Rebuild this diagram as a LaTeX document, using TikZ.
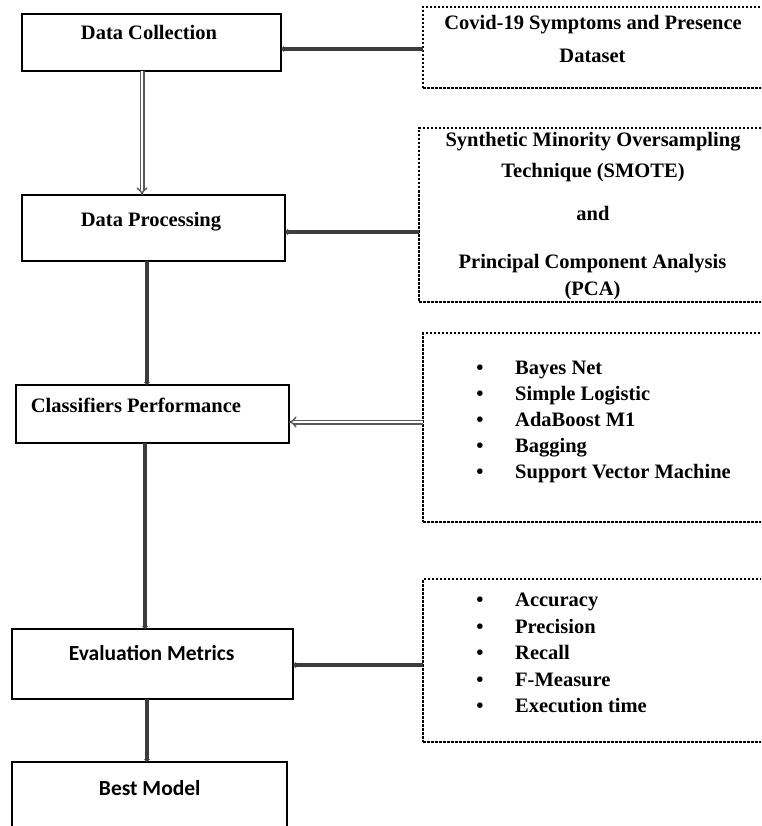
\documentclass[tikz,border=0pt]{standalone}
\usepackage{fontspec}
\setmainfont{Liberation Serif}
\newfontfamily\calib{Carlito}
\usetikzlibrary{arrows.meta}
\definecolor{arrowgray}{HTML}{3C3C3C}
\begin{document}
\begin{tikzpicture}[x=1pt,y=-1pt,
  box/.style={draw=black, line width=1.5pt, inner sep=0pt, outer sep=0pt},
  dbox/.style={draw=black, line width=1.1pt, dash pattern=on 2.5pt off 1.5pt, inner sep=0pt, outer sep=0pt},
  txt/.style={anchor=base, inner sep=0pt, font=\fontsize{20.5}{26}\selectfont\bfseries},
  stxt/.style={anchor=base, inner sep=0pt, font=\fontsize{21.5}{26}\selectfont\calib\bfseries},
  ltxt/.style={anchor=base west, inner sep=0pt, font=\fontsize{20.5}{26}\selectfont\bfseries},
  bul/.style={anchor=base, inner sep=0pt, font=\fontsize{20.5}{26}\selectfont\bfseries},
  arr/.style={draw=arrowgray, line width=3.6pt, -{Triangle[length=3pt,width=6pt]}},
  dbl/.style={draw=arrowgray!85, line width=1.4pt, double=white, double distance=2.2pt, -{Implies[length=4pt]}}
]
\useasboundingbox (0,0) rectangle (761,826);
\clip (0,0) rectangle (761,826);

% left boxes
\node[box, minimum width=259pt, minimum height=57pt] (dc) at (151.5,42.5) {};
\node[box, minimum width=263pt, minimum height=66pt] (dp) at (153.5,228) {};
\node[box, minimum width=273pt, minimum height=58pt] (cp) at (152.5,414) {};
\node[box, minimum width=281pt, minimum height=70pt] (em) at (152.5,664) {};
\node[box, minimum width=275pt, minimum height=78pt] (bm) at (149.5,801) {};

\node[txt] (dct) at (149,39.3) {Data Collection};
\node[txt] (dpt) at (151,226) {Data Processing};
\node[ltxt] (cpt) at (30.7,412.3) {Classifiers Performance};
\node[stxt] (emt) at (151.7,660.7) {Evaluation Metrics};
\node[stxt] (bmt) at (149.7,795) {Best Model};

% right boxes
\node[dbox, minimum width=342pt, minimum height=81pt] (r1) at (594,47.5) {};
\node[dbox, minimum width=346pt, minimum height=174pt] (r2) at (592,215) {};
\node[dbox, minimum width=342pt, minimum height=189pt] (r3) at (594,427.5) {};
\node[dbox, minimum width=342pt, minimum height=163pt] (r4) at (594,660.5) {};

\node[txt] (r1a) at (593,30) {Covid-19 Symptoms and Presence};
\node[txt] (r1b) at (592.5,62.7) {Dataset};

\node[txt] (r2a) at (593,146.7) {Synthetic Minority Oversampling};
\node[txt] (r2b) at (593,177.3) {Technique (SMOTE)};
\node[txt] (r2c) at (593,220) {and};
\node[txt] (r2d) at (592.5,268.3) {Principal Component Analysis};
\node[txt] (r2e) at (592.5,295) {(PCA)};

\foreach \t [count=\i] in {Bayes Net, Simple Logistic, AdaBoost M1, Bagging, Support Vector Machine}{
  \node[bul] (r3b\i) at (480,{374+26.1*(\i-1)}) {\textbullet};
  \node[ltxt] (r3t\i) at (515,{374+26.1*(\i-1)}) {\t};
}
\foreach \t [count=\i] in {Accuracy, Precision, Recall, F-Measure, Execution time}{
  \node[bul] (r4b\i) at (480,{606.7+26.5*(\i-1)}) {\textbullet};
  \node[ltxt] (r4t\i) at (515,{606.7+26.5*(\i-1)}) {\t};
}

% vertical connectors
\draw[dbl] ([xshift=-9.5pt]dc.south) -- ([xshift=-11.5pt]dp.north);
\draw[arr] ([xshift=-6.5pt]dp.south) -- ([xshift=-5.5pt]cp.north);
\draw[arr] ([xshift=-7.5pt]cp.south) -- ([xshift=-7.5pt]em.north);
\draw[arr] ([xshift=-5.5pt]em.south) -- ([xshift=-2.5pt]bm.north);

% horizontal connectors
\draw[arr] ([yshift=-1.5pt]r1.west) -- ([yshift=-1.5pt]r1.west -| dc.east);
\draw[arr] ([yshift=-4pt]dp.east -| r2.west) -- ([yshift=-4pt]dp.east);
\draw[dbl] ([yshift=-8pt]cp.east -| r3.west) -- ([yshift=-8pt]cp.east);
\draw[arr] ([yshift=-1pt]em.east -| r4.west) -- ([yshift=-1pt]em.east);
\end{tikzpicture}
\end{document}
